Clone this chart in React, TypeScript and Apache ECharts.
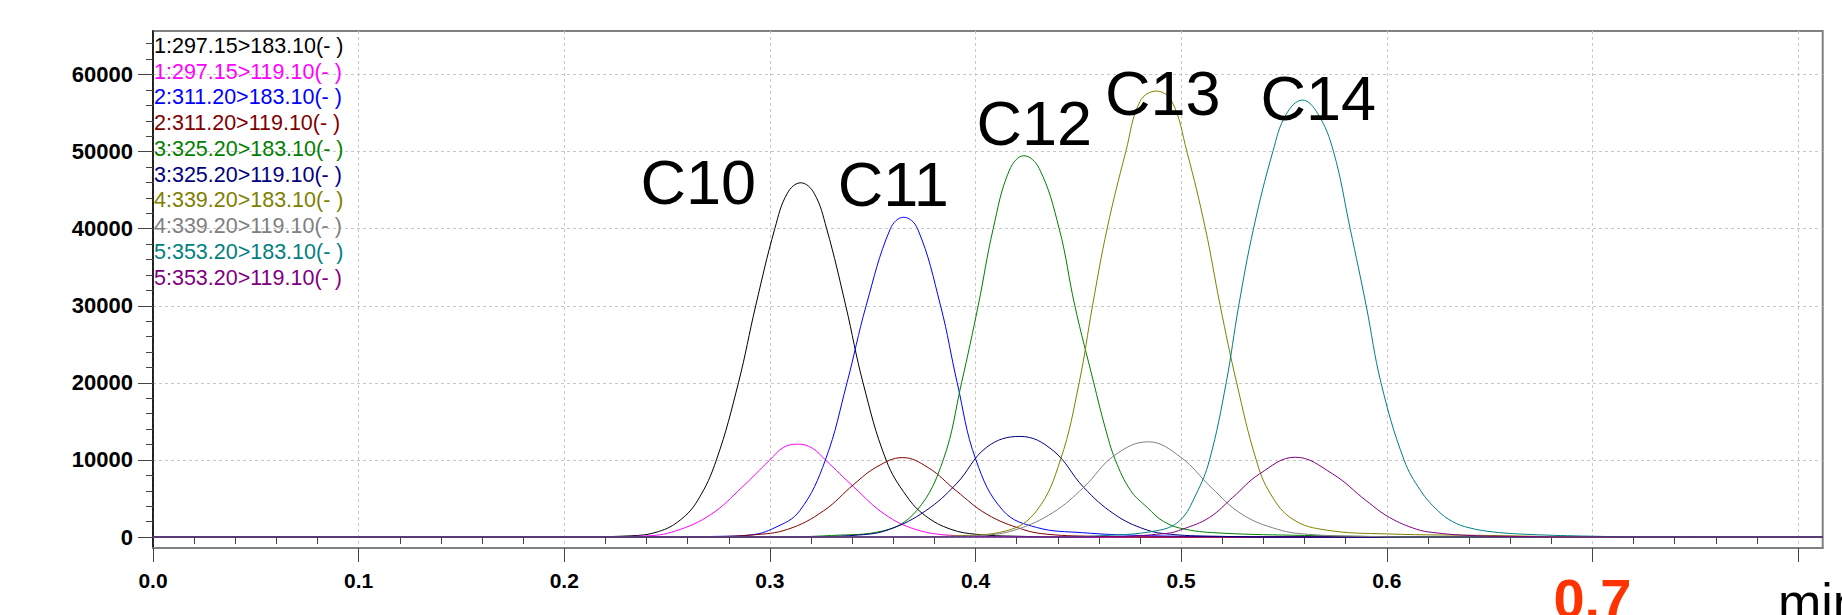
import React, { useEffect, useRef } from "react";
import * as echarts from "echarts";

const FONT = "'Liberation Sans', Arial, sans-serif";

const seriesNames = [
  "1:297.15>183.10(- )",
  "1:297.15>119.10(- )",
  "2:311.20>183.10(- )",
  "2:311.20>119.10(- )",
  "3:325.20>183.10(- )",
  "3:325.20>119.10(- )",
  "4:339.20>183.10(- )",
  "4:339.20>119.10(- )",
  "5:353.20>183.10(- )",
  "5:353.20>119.10(- )",
];
const seriesColors = [
  "#000000", "#FF00FF", "#0000FF", "#800000", "#008000",
  "#000080", "#808000", "#808080", "#008080", "#800080",
];

// [retention time (min), intensity]
const trace1 = [[0,0],[0.2,0],[0.232,150],[0.2457,690],[0.2564,2200],[0.265,4800],[0.274,10000],[0.2847,20000],[0.2931,30000],[0.3024,40000],[0.3085,44600],[0.315,45950],[0.3215,44600],[0.3276,40000],[0.3369,30000],[0.3453,20000],[0.3565,10000],[0.3665,5300],[0.3757,2740],[0.388,1000],[0.4005,350],[0.42,100],[0.45,0],[0.812,0]];
const trace2 = [[0,0],[0.21,0],[0.239,130],[0.2541,780],[0.2715,2960],[0.2864,6440],[0.3,10000],[0.3065,11600],[0.3135,12050],[0.3205,11550],[0.327,10000],[0.341,6440],[0.3558,2960],[0.3707,1000],[0.388,220],[0.41,50],[0.44,0],[0.812,0]];
const trace3 = [[0,0],[0.25,0],[0.27,60],[0.29,250],[0.3025,1220],[0.3145,3400],[0.327,10000],[0.3375,20000],[0.3468,30000],[0.3586,40000],[0.365,41480],[0.3718,40000],[0.383,30000],[0.3911,20000],[0.4002,10000],[0.4135,3400],[0.4297,1240],[0.452,560],[0.48,200],[0.52,50],[0.56,0],[0.812,0]];
const trace4 = [[0,0],[0.26,0],[0.27,30],[0.2913,260],[0.3087,1000],[0.3261,3390],[0.341,6870],[0.352,9100],[0.3645,10300],[0.377,9000],[0.3906,6000],[0.4055,2960],[0.4228,1000],[0.4352,350],[0.46,80],[0.49,0],[0.812,0]];
const trace5 = [[0,0],[0.3,0],[0.33,200],[0.3551,800],[0.3713,3400],[0.3843,10000],[0.3932,20000],[0.4013,30000],[0.4086,40000],[0.4165,47600],[0.4235,49460],[0.431,47800],[0.4407,40000],[0.4483,30000],[0.4575,20000],[0.463,14250],[0.468,10000],[0.4755,6010],[0.4835,3840],[0.4915,2000],[0.502,1000],[0.52,500],[0.56,200],[0.6,50],[0.65,0],[0.812,0]];
const trace6 = [[0,0],[0.31,0],[0.3434,260],[0.3583,1000],[0.3757,3390],[0.3906,6870],[0.4055,11660],[0.4216,13050],[0.4377,11220],[0.4526,6440],[0.4675,2960],[0.4824,1000],[0.4948,350],[0.52,80],[0.55,0],[0.812,0]];
const trace7 = [[0,0],[0.36,0],[0.39,150],[0.415,800],[0.4297,3400],[0.4413,10000],[0.4504,20000],[0.4569,30000],[0.464,40000],[0.4731,50000],[0.48,56500],[0.488,57850],[0.4955,56500],[0.5028,50000],[0.5118,40000],[0.519,30000],[0.527,20000],[0.5365,10000],[0.5435,5570],[0.5543,2300],[0.5705,900],[0.6,400],[0.65,200],[0.7,0],[0.812,0]];
const trace8 = [[0,0],[0.37,0],[0.4055,260],[0.4203,1000],[0.4377,3180],[0.4526,6440],[0.4675,10570],[0.484,12350],[0.4998,10350],[0.5146,6440],[0.5295,2960],[0.5469,1000],[0.5618,350],[0.59,80],[0.62,0],[0.812,0]];
const trace9 = [[0,0],[0.44,0],[0.46,150],[0.4878,800],[0.4992,2100],[0.5073,5570],[0.5138,10000],[0.5219,20000],[0.528,30000],[0.5352,40000],[0.5446,50000],[0.551,54800],[0.559,56680],[0.5665,54900],[0.5741,50000],[0.5822,40000],[0.59,30000],[0.5972,20000],[0.6084,10000],[0.6165,6000],[0.6245,3500],[0.632,2000],[0.64,1200],[0.652,650],[0.6687,340],[0.7,100],[0.73,0],[0.812,0]];
const trace10 = [[0,0],[0.46,0],[0.4927,460],[0.5008,1020],[0.5138,2540],[0.5251,5140],[0.5381,8180],[0.5555,10350],[0.5737,8180],[0.59,4710],[0.6013,2540],[0.6143,1020],[0.6224,590],[0.64,200],[0.67,50],[0.7,0],[0.812,0]];
const traces = [trace1, trace2, trace3, trace4, trace5, trace6, trace7, trace8, trace9, trace10];

const peakLabels = ["C10", "C11", "C12", "C13", "C14"];
const peakLabelSeries = [0, 2, 4, 6, 8];
const peakLabelTime = [0.2652, 0.36, 0.4286, 0.4911, 0.5667];
const peakLabelLevel = [46080, 45760, 53700, 57650, 57000];

const xMajorTicks = [0, 0.1, 0.2, 0.3, 0.4, 0.5, 0.6, 0.7, 0.8];
const xLabelTicks = [0, 0.1, 0.2, 0.3, 0.4, 0.5, 0.6, 0.7];
const xHighlightLabel = 0.7;
const xMinorTicks = [0.02,0.04,0.06,0.08,0.12,0.14,0.16,0.18,0.22,0.24,0.26,0.28,0.32,0.34,0.36,0.38,0.42,0.44,0.46,0.48,0.52,0.54,0.56,0.58,0.62,0.64,0.66,0.68,0.72,0.74,0.76,0.78];
const yMajorTicks = [0, 10000, 20000, 30000, 40000, 50000, 60000];
const yMinorTicks = [2000,4000,6000,8000,12000,14000,16000,18000,22000,24000,26000,28000,32000,34000,36000,38000,42000,44000,46000,48000,52000,54000,56000,58000,62000,64000];

const X_MIN = 0;
const X_MAX = 0.812;
const Y_MIN = -1427;
const Y_MAX = 65644;

const gridRect = { left: 153, top: 31, right: 19.3, bottom: 67, outerBoundsMode: "none", containLabel: false };
const tickColor = "#444444";

function buildOption() {
  const series = traces.map((data, i) => {
    const li = peakLabelSeries.indexOf(i);
    const s: any = {
      type: "line",
      name: seriesNames[i],
      data,
      xAxisIndex: 0,
      yAxisIndex: 0,
      showSymbol: false,
      symbol: "none",
      smooth: 0.4,
      silent: true,
      lineStyle: { width: 1, color: seriesColors[i] },
      itemStyle: { color: seriesColors[i] },
    };
    if (li >= 0) {
      s.markPoint = {
        silent: true,
        symbol: "circle",
        symbolSize: 1,
        itemStyle: { color: "rgba(0,0,0,0)" },
        label: {
          show: true,
          position: "inside",
          formatter: "{b}",
          fontSize: 63,
          color: "#000",
          fontFamily: FONT,
        },
        data: [{ name: peakLabels[li], coord: [peakLabelTime[li], peakLabelLevel[li]] }],
      };
    }
    return s;
  });

  return {
    animation: false,
    backgroundColor: "#ffffff",
    textStyle: { fontFamily: FONT },
    grid: [
      { ...gridRect, show: true, borderColor: "#808080", borderWidth: 2, backgroundColor: "transparent" },
      { ...gridRect, show: false },
    ],
    legend: {
      orient: "vertical",
      left: 149,
      top: 33,
      padding: 0,
      itemGap: 2,
      itemWidth: 0,
      itemHeight: 25.5,
      icon: "none",
      selectedMode: false,
      textStyle: { fontSize: 21.5, fontFamily: FONT },
      data: seriesNames.map((n, i) => ({ name: n, textStyle: { color: seriesColors[i] } })),
    },
    xAxis: [
      {
        type: "value",
        gridIndex: 0,
        min: X_MIN,
        max: X_MAX,
        name: "min",
        nameLocation: "end",
        nameGap: -44.7,
        nameTextStyle: {
          fontSize: 52,
          color: "#000",
          fontFamily: FONT,
          align: "left",
          verticalAlign: "top",
          padding: [28, 0, 0, 0],
        },
        axisLine: { show: true, onZero: false, lineStyle: { color: "#808080", width: 2 } },
        axisTick: { show: true, length: 14, customValues: xMajorTicks, lineStyle: { color: tickColor, width: 1 } },
        minorTick: { show: false },
        axisLabel: {
          show: true,
          customValues: xLabelTicks,
          margin: 22,
          fontSize: 21,
          fontWeight: "bold",
          color: "#000",
          fontFamily: FONT,
          formatter: (v: number) =>
            Math.abs(v - xHighlightLabel) < 1e-9 ? "{r|" + v.toFixed(1) + "}" : v.toFixed(1),
          rich: {
            r: { fontSize: 56, fontWeight: "bold", color: "#FF3300", fontFamily: FONT },
          },
        },
        splitLine: { show: true, lineStyle: { color: "#c8c8c8", type: [3, 3], width: 1 } },
      },
      {
        type: "value",
        gridIndex: 1,
        min: X_MIN,
        max: X_MAX,
        axisLine: { show: false },
        axisTick: { show: true, length: 7, customValues: xMinorTicks, lineStyle: { color: tickColor, width: 1 } },
        axisLabel: { show: false },
        splitLine: { show: false },
      },
    ],
    yAxis: [
      {
        type: "value",
        gridIndex: 0,
        min: Y_MIN,
        max: Y_MAX,
        axisLine: { show: true, onZero: false, lineStyle: { color: "#000", width: 1.5 } },
        axisTick: { show: true, length: 15, customValues: yMajorTicks, lineStyle: { color: tickColor, width: 1 } },
        minorTick: { show: false },
        axisLabel: {
          show: true,
          customValues: yMajorTicks,
          margin: 20,
          fontSize: 22,
          fontWeight: "bold",
          color: "#000",
          fontFamily: FONT,
          formatter: (v: number) => String(v),
        },
        splitLine: { show: true, lineStyle: { color: "#c8c8c8", type: [3, 3], width: 1 } },
      },
      {
        type: "value",
        gridIndex: 1,
        min: Y_MIN,
        max: Y_MAX,
        axisLine: { show: false },
        axisTick: { show: true, length: 7, customValues: yMinorTicks, lineStyle: { color: tickColor, width: 1 } },
        axisLabel: { show: false },
        splitLine: { show: false },
      },
    ],
    series,
  };
}

export default function App() {
  const ref = useRef<HTMLDivElement>(null);
  useEffect(() => {
    document.body.style.margin = "0";
    document.body.style.overflow = "hidden";
    const chart = echarts.init(ref.current!, undefined, { renderer: "svg" });
    chart.setOption(buildOption() as any);
    return () => chart.dispose();
  }, []);
  return <div ref={ref} style={{ width: 1842, height: 615 }} />;
}
